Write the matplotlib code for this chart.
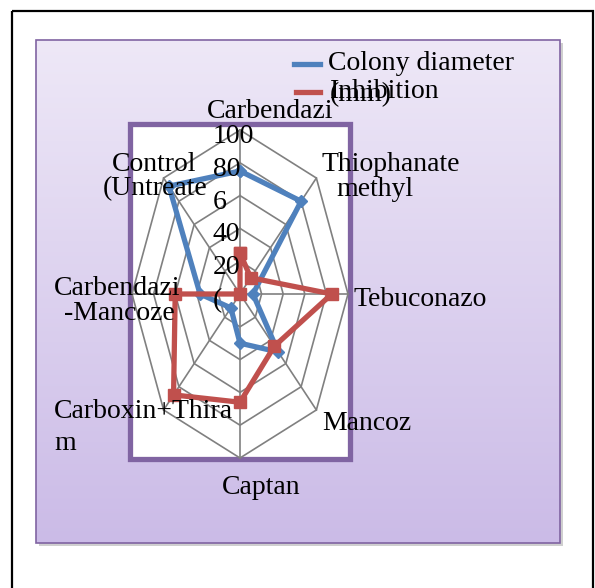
import numpy as np
import matplotlib
matplotlib.use("Agg")
import matplotlib.pyplot as plt
from matplotlib.patches import Rectangle

plt.rcParams['font.family'] = ['Liberation Serif', 'DejaVu Serif']

# categories (clockwise from top) and the two series
categories = ["Carbendazim", "Thiophanate methyl", "Tebuconazole", "Mancozeb",
              "Captan", "Carboxin+Thiram", "Carbendazim+Mancozeb", "Control (Untreated)"]
colony_diameter = [75, 80, 12, 50, 30, 12, 37, 93]
inhibition = [25, 14, 85, 45, 66, 87, 60, 0]
rings = [20, 40, 60, 80, 100]
ring_labels = ["20", "40", "6", "80", "100"]

W, H = 595, 588
FS = 20
blue = '#4F81BD'
red = '#C0504D'
purple = '#8064A2'


def fx(x):
    return x / W


def fy(y):
    return 1 - y / H


fig = plt.figure(figsize=(W / 100, H / 100), dpi=100)
fig.patch.set_facecolor('white')

# background / frame layer in pixel coords
bg = fig.add_axes([0, 0, 1, 1])
bg.set_xlim(0, W)
bg.set_ylim(H, 0)
bg.axis('off')
bg.add_patch(Rectangle((12, 11), 581, 600, fill=False, ec='black', lw=1.6))
# shadow
bg.add_patch(Rectangle((39, 43), 524, 503, fc='#b0b0b0', ec='none', alpha=0.6))
grad = np.linspace(0, 1, 256)[:, None]
top = np.array([238, 232, 247]) / 255
bot = np.array([203, 187, 231]) / 255
img = top[None, None, :] * (1 - grad[:, :, None]) + bot[None, None, :] * grad[:, :, None]
bg.imshow(img, extent=(36, 560, 543, 40), aspect='auto', zorder=1)
bg.add_patch(Rectangle((36, 40), 524, 503, fill=False, ec=purple, lw=1.2, zorder=2))
bg.add_patch(Rectangle((129.5, 123.5), 220, 335.5, fc='white', ec=purple, lw=3.8, zorder=3))

# radar layer
ax = fig.add_axes([fx(132), fy(458), 216 / W, 328 / H])
ax.set_xlim(-100, 100)
ax.set_ylim(-100, 100)
ax.axis('off')
ax.patch.set_alpha(0)

theta = np.arange(len(categories)) * 2 * np.pi / len(categories)
tc = np.append(theta, theta[0])
for r in rings:
    ax.plot(r * np.sin(tc), r * np.cos(tc), color='#808080', lw=1.2, zorder=1, clip_on=False)
for t in theta:
    ax.plot([0, 100 * np.sin(t)], [0, 100 * np.cos(t)], color='#808080', lw=1.2, zorder=1, clip_on=False)

for vals, col, mk, ms in [(colony_diameter, blue, 'D', 6), (inhibition, red, 's', 9)]:
    v = np.append(vals, vals[0])
    ax.plot(v * np.sin(tc), v * np.cos(tc), color=col, lw=3.8, marker=mk, ms=ms,
            zorder=3, clip_on=False)

for r, lab in zip([0] + rings, ["("] + ring_labels):
    ax.text(-25, r - 4, lab, ha='left', va='center', fontsize=FS, zorder=5)

# category labels (as wrapped / clipped in the original)
cat_texts = [
    (207, 112, "Carbendazi"),
    (322, 165, "Thiophanate"), (336, 189, "methyl"),
    (354, 299, "Tebuconazo"),
    (322, 424, "Mancoz"),
    (222, 488, "Captan"),
    (54, 412, "Carboxin+Thira"), (54, 443, "m"),
    (54, 289, "Carbendazi"), (64, 313, "-Mancoze"),
    (112, 165, "Control"), (103, 189, "(Untreate"),
]
for x, y, s in cat_texts:
    fig.text(fx(x), fy(y), s, ha='left', va='center', fontsize=FS, zorder=6)

# legend
bg.plot([294, 320], [64, 64], color=blue, lw=3.8, zorder=4)
bg.plot([296, 320], [92, 92], color=red, lw=3.8, zorder=4)
fig.text(fx(328), fy(64), "Colony diameter", ha='left', va='center', fontsize=FS)
fig.text(fx(330), fy(95), "(mm)", ha='left', va='center', fontsize=FS)
fig.text(fx(330), fy(92), "Inhibition", ha='left', va='center', fontsize=FS)

fig.savefig("out.png", dpi=100)
